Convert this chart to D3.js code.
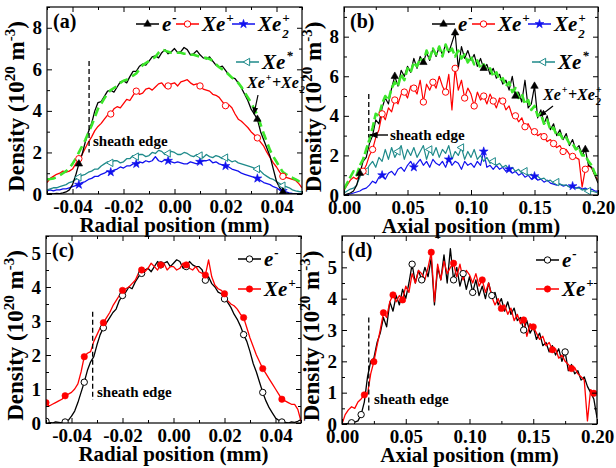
<!DOCTYPE html>
<html>
<head>
<meta charset="utf-8">
<script src="https://cdn.jsdelivr.net/npm/d3@7"></script>
<style>
body { margin: 0; background: #fff; }
text { font-family: "Liberation Serif", "Times New Roman", serif; font-weight: bold; }
</style>
</head>
<body>
<svg id="chart" width="616" height="468"></svg>
<script>
// sampling grids of the simulation output
var radialX = d3.range(81).map(function(i){ return -0.05 + i * 0.00125; });
var axialX = d3.range(81).map(function(i){ return i * 0.0025; });

// (a) radial profiles, 10^20 m^-3
var aElec = [0.0,0.02,0.0,0.03,0.02,0.05,0.1,0.2,0.45,0.9,1.45,1.9,2.5,3.0,3.4,4.0,4.4,4.45,4.7,4.95,5.0,4.9,5.15,5.4,5.45,5.35,5.65,5.9,5.9,6.15,6.25,6.2,6.4,6.6,6.65,6.55,6.8,6.95,6.75,6.85,7.0,6.8,6.85,7.05,6.95,6.7,6.75,6.9,6.7,6.55,6.5,6.6,6.4,6.2,6.1,6.15,5.95,5.75,5.6,5.55,5.35,5.1,4.8,4.5,4.1,3.85,3.6,3.0,2.6,2.2,1.8,1.2,0.6,0.3,0.1,0.05,0.02,0.0,0.0,0.0,0.0];
var aXeP = [0.55,0.75,0.85,0.95,1.0,1.1,1.05,1.1,1.2,1.45,1.7,1.9,2.2,2.5,2.75,3.05,3.25,3.4,3.6,3.8,3.85,4.1,4.2,4.15,4.35,4.55,4.5,4.75,4.95,4.8,4.85,5.05,5.1,5.0,5.15,5.3,5.35,5.15,5.2,5.3,5.35,5.2,5.4,5.45,5.5,5.35,5.25,5.3,5.2,5.05,5.0,4.95,4.8,4.75,4.65,4.45,4.25,4.3,4.15,3.85,3.6,3.5,3.35,3.2,3.0,2.85,2.7,2.5,2.3,2.0,1.75,1.5,1.3,1.05,0.85,0.8,0.75,0.7,0.65,0.5,0.3];
var aXe2P = [0.15,0.2,0.15,0.2,0.2,0.25,0.25,0.3,0.35,0.4,0.45,0.55,0.6,0.7,0.75,0.85,0.85,0.95,1.0,1.1,1.05,1.15,1.2,1.3,1.25,1.35,1.35,1.45,1.45,1.55,1.5,1.6,1.55,1.6,1.8,1.6,1.55,1.65,1.6,1.55,1.5,1.55,1.5,1.45,1.45,1.55,1.5,1.45,1.55,1.6,1.6,1.65,1.5,1.55,1.45,1.4,1.35,1.3,1.2,1.15,1.1,1.0,0.95,0.9,0.85,0.8,0.75,0.65,0.55,0.5,0.45,0.35,0.3,0.2,0.15,0.1,0.05,0.03,0.02,0.0,0.0];
var aXeStar = [0.2,0.25,0.3,0.3,0.35,0.4,0.45,0.55,0.6,0.7,0.8,0.9,0.95,1.05,1.1,1.2,1.2,1.35,1.45,1.55,1.5,1.6,1.6,1.5,1.55,1.7,1.7,1.85,1.8,1.9,1.9,1.8,1.85,2.0,1.95,2.1,2.05,1.9,1.95,2.05,2.0,1.9,1.9,2.0,1.95,1.85,1.8,1.9,1.85,1.75,1.9,1.8,1.75,1.85,1.8,1.7,1.75,1.65,1.55,1.6,1.5,1.45,1.4,1.35,1.3,1.25,1.2,1.1,0.95,0.85,0.75,0.7,0.6,0.5,0.4,0.35,0.3,0.2,0.15,0.12,0.1];
var aSum = [0.7,0.72,0.75,0.8,0.9,1.0,1.1,1.25,1.45,1.7,2.0,2.3,2.6,2.95,3.3,3.7,4.1,4.35,4.6,4.85,5.0,5.1,5.2,5.35,5.45,5.5,5.6,5.7,5.8,6.0,6.2,6.3,6.4,6.5,6.6,6.8,6.95,6.9,6.85,6.8,6.8,6.8,6.8,6.75,6.75,6.7,6.7,6.65,6.6,6.55,6.55,6.5,6.4,6.25,6.1,6.0,5.9,5.75,5.6,5.5,5.35,5.15,4.9,4.65,4.4,4.1,3.8,3.35,2.9,2.5,2.1,1.8,1.55,1.3,1.05,0.95,0.85,0.78,0.7,0.62,0.55];
var aMarks = [10,20,28,38,48,56,66,74];
var aElecMarks = [10,66,74];

// (b) axial profiles
var bElec = [0.0,0.05,0.1,0.2,0.5,1.1,1.7,1.9,2.6,3.0,3.8,3.6,4.4,4.9,4.6,5.4,6.0,5.5,6.3,6.0,6.5,6.2,6.9,6.4,7.0,6.7,7.2,6.8,7.4,7.0,7.5,7.1,7.6,7.2,7.7,8.2,6.4,7.5,6.9,7.3,6.8,7.1,6.5,6.9,6.4,6.6,6.1,6.4,5.9,6.1,5.6,5.8,5.3,6.0,5.0,5.2,4.7,5.8,4.4,4.6,5.5,3.9,4.3,3.6,4.0,3.3,3.6,3.0,3.3,2.8,3.1,2.5,2.8,2.3,2.5,2.0,2.3,1.5,1.4,1.0,0.6];
var bXeP = [0.25,0.5,0.75,0.9,0.8,1.0,1.2,1.5,2.0,2.3,2.9,3.3,4.1,3.8,4.4,4.2,4.8,4.6,5.1,5.2,4.9,5.5,5.4,5.1,5.8,4.7,5.6,5.3,5.7,5.4,6.0,5.5,5.2,6.1,4.3,6.4,5.3,5.8,4.9,5.4,5.1,4.5,5.2,4.8,5.0,4.6,5.1,4.75,4.4,4.9,4.75,4.3,4.5,4.0,4.0,3.7,3.9,3.45,3.6,3.3,3.2,3.0,3.1,2.95,2.7,2.8,2.6,2.4,2.5,2.2,2.3,2.05,1.95,1.9,1.8,0.4,1.3,1.5,1.35,1.0,0.75];
var bXe2P = [0.0,0.02,0.05,0.1,0.15,0.2,0.3,0.35,0.5,0.7,0.6,0.9,1.0,0.8,1.1,1.2,1.0,1.3,1.4,1.2,1.5,1.7,1.4,1.6,1.8,1.5,1.7,1.4,1.8,1.6,1.5,1.7,1.4,1.8,1.5,1.7,1.6,1.3,1.7,1.5,1.6,1.4,1.7,1.5,2.2,1.4,1.5,1.3,1.5,1.3,1.4,1.2,1.3,1.1,1.2,1.0,1.1,0.9,1.0,0.8,0.95,0.75,0.8,0.65,0.75,0.6,0.55,0.5,0.55,0.45,0.5,0.4,0.45,0.35,0.4,0.3,0.35,0.25,0.3,0.2,0.2];
var bXeStar = [0.1,0.2,0.3,0.35,0.5,0.9,1.3,1.2,1.5,1.7,1.4,1.9,1.7,2.3,1.8,2.4,1.9,2.2,2.5,1.8,2.3,2.0,2.4,1.9,2.2,2.5,1.8,2.3,2.0,2.4,1.9,2.3,2.1,2.5,1.8,2.2,2.0,2.4,1.8,2.2,1.9,2.3,1.8,2.0,1.7,1.9,1.6,1.7,1.5,1.6,1.4,1.5,1.3,1.4,1.2,1.3,1.1,1.2,1.0,1.05,0.9,0.95,0.8,0.85,0.7,0.75,0.6,0.65,0.55,0.5,0.5,0.4,0.45,0.35,0.35,0.25,0.3,0.2,0.2,0.15,0.1];
var bSum = [0.3,0.6,0.9,1.2,1.0,1.5,1.8,2.3,2.8,3.4,4.1,4.0,4.6,5.0,4.8,5.4,5.7,5.5,6.1,5.8,6.4,6.2,6.7,6.5,6.9,6.7,7.3,6.9,7.4,7.1,7.5,7.0,7.6,7.2,7.4,7.0,7.3,6.9,7.1,6.7,7.0,6.6,6.8,6.4,6.6,6.3,6.4,6.0,6.2,5.8,5.9,5.5,5.7,5.2,5.4,4.9,5.1,4.6,4.8,4.3,4.5,4.0,4.1,3.6,3.8,3.3,3.4,3.0,3.1,2.8,2.9,2.6,2.6,2.3,2.4,2.0,2.0,1.7,1.5,1.1,0.8];
var bElecMarks = [5,16,25,35,44,54,60,76];
var bXePMarks = [6,9,12,16,19,22,25,28,32,35,38,41,44,47,50,54,57,60,63,66,69,72,76];
var bXe2PMarks = [12,22,33,44,52,60,72];
var bXeStarMarks = [7,17,27,37,47,57,67,77];

// (c) radial, e- and Xe+
var cElec = [0.05,0.02,0.0,0.03,0.02,0.0,0.03,0.08,0.2,0.35,0.6,0.9,1.2,1.55,1.8,1.95,2.3,2.6,2.8,2.95,3.1,3.25,3.35,3.6,3.75,3.85,4.0,3.95,4.15,4.3,4.4,4.5,4.55,4.45,4.6,4.75,4.65,4.7,4.75,4.6,4.7,4.8,4.75,4.55,4.6,4.75,4.65,4.6,4.6,4.5,4.2,4.3,4.1,4.0,3.85,3.8,3.65,3.55,3.4,3.2,3.05,2.85,2.6,2.4,2.1,1.75,1.5,1.2,0.9,0.65,0.45,0.3,0.15,0.08,0.03,0.02,0.0,0.03,0.02,0.05,0.1];
var cXeP = [0.6,0.5,0.55,0.6,0.65,0.7,0.8,0.85,0.9,1.0,1.15,1.5,1.95,2.05,2.1,2.4,2.6,2.8,2.95,3.1,3.25,3.45,3.6,3.75,3.9,3.95,4.0,4.1,4.2,4.4,4.5,4.45,4.55,4.7,4.6,4.5,4.65,4.7,4.5,4.6,4.6,4.5,4.55,4.7,4.65,4.55,4.5,4.6,4.45,4.4,4.35,4.8,4.3,4.05,3.95,3.9,3.8,3.6,3.5,3.45,3.35,3.2,3.1,2.8,2.5,2.25,2.0,1.8,1.6,1.45,1.3,1.15,1.0,0.85,0.7,0.65,0.6,0.55,0.55,0.4,0.05];
var cMarks = [0,6,12,18,24,30,36,44,50,56,62,68,74];

// (d) axial, e- and Xe+
var dElec = [0.0,0.0,0.02,0.04,0.06,0.1,0.3,0.7,1.5,2.0,2.1,2.6,2.9,3.4,3.1,3.9,3.6,4.1,3.8,4.3,4.0,4.5,5.1,4.5,4.9,4.6,5.0,4.7,5.3,3.8,5.0,4.6,5.4,4.5,5.6,4.6,5.0,4.4,4.8,4.3,4.7,4.2,4.6,4.1,4.4,4.0,4.5,4.1,4.2,3.8,4.0,3.6,3.9,3.5,3.7,3.3,3.4,3.0,3.3,2.9,3.1,2.7,2.9,2.5,2.6,2.3,2.5,2.2,2.4,2.0,2.3,1.7,1.9,1.6,1.7,1.4,1.5,1.2,1.0,0.8,0.2];
var dXeP = [0.0,0.3,0.45,0.55,0.5,0.7,0.8,0.93,0.95,1.6,1.99,2.5,3.0,3.55,3.4,3.9,4.12,3.9,4.1,3.96,4.4,4.2,4.8,4.5,4.9,4.8,4.6,5.0,5.48,3.9,5.1,4.6,5.2,4.8,5.0,5.13,4.7,5.1,4.6,4.9,4.76,4.5,4.8,4.4,4.6,4.2,4.5,4.06,3.8,4.0,3.69,3.8,3.5,3.7,3.3,3.5,3.2,3.32,2.8,3.2,3.1,2.9,2.7,2.8,2.5,2.6,2.37,2.4,2.1,2.2,2.0,1.9,1.77,1.8,1.6,1.51,1.4,0.1,1.1,0.98,1.0];
var dElecMarks = [3,6,22,25,35,38,41,47,57,70];
var dXePMarks = [7,10,13,16,19,28,35,44,50,57,60,66,72,79];

var radialTicks = [-0.04, -0.02, 0, 0.02, 0.04];
var radialMinor = [-0.05, -0.03, -0.01, 0.01, 0.03, 0.05];
var axialTicks = [0, 0.05, 0.1, 0.15, 0.2];
var axialMinor = [0.025, 0.075, 0.125, 0.175];

var C = {elec: "#000000", xep: "#ff0000", xe2p: "#1111ee", star: "#1e8a8a", sum: "#3be62a"};
var SERIF = '"Liberation Serif","Times New Roman",serif';

var svg = d3.select("#chart");
svg.append("rect").attr("width", 616).attr("height", 468).attr("fill", "#fff");

var panels = [
  {id: "a", left: 47, right: 302, top: 7, bottom: 194, xd: [-0.05, 0.05], yd: [0, 9],
   xt: radialTicks, xm: radialMinor, yt: [0, 2, 4, 6, 8], ym: [1, 3, 5, 7, 9], xs: radialX, title: "Radial position (mm)"},
  {id: "b", left: 344, right: 598, top: 7, bottom: 195, xd: [0, 0.2], yd: [0, 9.5],
   xt: axialTicks, xm: axialMinor, yt: [0, 2, 4, 6, 8], ym: [1, 3, 5, 7, 9], xs: axialX, title: "Axial position (mm)"},
  {id: "c", left: 46, right: 301, top: 236, bottom: 423, xd: [-0.05, 0.05], yd: [0, 5.5],
   xt: radialTicks, xm: radialMinor, yt: [0, 1, 2, 3, 4, 5], ym: [0.5, 1.5, 2.5, 3.5, 4.5, 5.5], xs: radialX, title: "Radial position (mm)"},
  {id: "d", left: 342, right: 597, top: 236, bottom: 424, xd: [0, 0.2], yd: [0, 6],
   xt: axialTicks, xm: axialMinor, yt: [0, 1, 2, 3, 4, 5], ym: [0.5, 1.5, 2.5, 3.5, 4.5, 5.5], xs: axialX, title: "Axial position (mm)"}
];

function fmtX(v) { return (v < -1e-9 ? "-" : "") + Math.abs(v).toFixed(2); }

// markers: filled triangle, open circle, filled circle, star, open left triangle
function drawMarker(g, type, color, px, py) {
  var sym = type === "star" ? d3.symbolStar : (type === "tri" || type === "ltri") ? d3.symbolTriangle : d3.symbolCircle;
  var size = type === "star" ? 24 : (type === "tri" || type === "ltri") ? 24 : 32;
  var m = g.append("path").attr("d", d3.symbol().type(sym).size(size)())
    .attr("transform", "translate(" + px + "," + py + ")" + (type === "ltri" ? " rotate(-90)" : ""));
  if (type === "ocirc" || type === "ltri") {
    m.attr("fill", "#fff").attr("stroke", color).attr("stroke-width", 1);
  } else {
    m.attr("fill", color).attr("stroke", color).attr("stroke-width", 0.6);
  }
}

// text with stacked sub/superscript
function rich(g, x, y, base, sup, sub, size, italic) {
  var t = g.append("text").attr("x", x).attr("y", y).attr("font-size", size)
    .attr("font-style", italic ? "italic" : "normal").text(base);
  var w = t.node().getComputedTextLength();
  if (sub) g.append("text").attr("x", x + w + 1).attr("y", y + size * 0.32).attr("font-size", size * 0.62)
    .attr("font-style", italic ? "italic" : "normal").text(sub);
  if (sup) g.append("text").attr("x", x + w + 1).attr("y", y - size * 0.45).attr("font-size", size * 0.62)
    .attr("font-style", italic ? "italic" : "normal").text(sup);
  return t;
}

function legendItem(g, x, y, color, type, base, sup, sub) {
  g.append("line").attr("x1", x).attr("x2", x + 23).attr("y1", y).attr("y2", y)
    .attr("stroke", color).attr("stroke-width", 1.5);
  drawMarker(g, type, color, x + 11.5, y);
  rich(g, x + 26, y + 7, base, sup, sub, 21, true);
}

panels.forEach(function(p) {
  var g = svg.append("g").attr("id", "panel-" + p.id);
  p.x = d3.scaleLinear().domain(p.xd).range([p.left, p.right]);
  p.y = d3.scaleLinear().domain(p.yd).range([p.bottom, p.top]);
  p.g = g;

  svg.append("clipPath").attr("id", "clip-" + p.id).append("rect")
    .attr("x", p.left).attr("y", p.top).attr("width", p.right - p.left).attr("height", p.bottom - p.top);
  p.plot = g.append("g").attr("clip-path", "url(#clip-" + p.id + ")");

  // axes, ticks point inward on all four sides
  var ax = [
    {a: d3.axisBottom(p.x).tickValues(p.xt).tickSize(-5).tickPadding(6).tickFormat(fmtX), t: "translate(0," + p.bottom + ")"},
    {a: d3.axisBottom(p.x).tickValues(p.xm).tickSize(-3).tickFormat(""), t: "translate(0," + p.bottom + ")"},
    {a: d3.axisTop(p.x).tickValues(p.xt).tickSize(-5).tickFormat(""), t: "translate(0," + p.top + ")"},
    {a: d3.axisTop(p.x).tickValues(p.xm).tickSize(-3).tickFormat(""), t: "translate(0," + p.top + ")"},
    {a: d3.axisLeft(p.y).tickValues(p.yt).tickSize(-5).tickPadding(5).tickFormat(d3.format("d")), t: "translate(" + p.left + ",0)"},
    {a: d3.axisLeft(p.y).tickValues(p.ym).tickSize(-3).tickFormat(""), t: "translate(" + p.left + ",0)"},
    {a: d3.axisRight(p.y).tickValues(p.yt).tickSize(-5).tickFormat(""), t: "translate(" + p.right + ",0)"},
    {a: d3.axisRight(p.y).tickValues(p.ym).tickSize(-3).tickFormat(""), t: "translate(" + p.right + ",0)"}
  ];
  ax.forEach(function(d) {
    var ag = g.append("g").attr("transform", d.t).call(d.a);
    ag.select(".domain").remove();
    ag.attr("font-family", SERIF).attr("font-size", 19).attr("font-weight", "bold");
    ag.selectAll("line").attr("stroke", "#000").attr("stroke-width", 1);
    ag.selectAll("text").attr("fill", "#000");
  });
  g.append("rect").attr("x", p.left).attr("y", p.top).attr("width", p.right - p.left)
    .attr("height", p.bottom - p.top).attr("fill", "none").attr("stroke", "#000").attr("stroke-width", 1.2);

  // axis titles
  g.append("text").attr("x", (p.left + p.right) / 2).attr("y", p.bottom + 38).attr("text-anchor", "middle")
    .attr("font-size", 21).text(p.title);
  var yt = g.append("text").attr("text-anchor", "middle").attr("font-size", 23)
    .attr("transform", "translate(" + (p.left - 23) + "," + ((p.top + p.bottom) / 2 + 6) + ") rotate(-90)");
  yt.append("tspan").text("Density (10");
  yt.append("tspan").attr("font-size", 15).attr("dy", -9).text("20");
  yt.append("tspan").attr("dy", 9).text(" m");
  yt.append("tspan").attr("font-size", 15).attr("dy", -9).text("-3");
  yt.append("tspan").attr("dy", 9).text(")");

  g.append("text").attr("x", p.left + 6).attr("y", p.top + 21).attr("font-size", 20).text("(" + p.id + ")");
});

function series(p, values, color, width, dash) {
  var line = d3.line().x(function(d, i) { return p.x(p.xs[i]); }).y(function(d) { return p.y(d); });
  var path = p.plot.append("path").datum(values).attr("d", line).attr("fill", "none")
    .attr("stroke", color).attr("stroke-width", width).attr("stroke-linejoin", "round");
  if (dash) path.attr("stroke-dasharray", dash);
}
function marks(p, values, idx, color, type) {
  idx.forEach(function(i) { drawMarker(p.plot, type, color, p.x(p.xs[i]), p.y(values[i])); });
}

function sheath(p, xv, y0, y1, tx, ty) {
  p.g.append("line").attr("x1", p.x(xv)).attr("x2", p.x(xv)).attr("y1", p.y(y0)).attr("y2", p.y(y1))
    .attr("stroke", "#000").attr("stroke-width", 1.3).attr("stroke-dasharray", "5,3");
  p.g.append("text").attr("x", tx).attr("y", ty).attr("font-size", 15).text("sheath edge");
}

svg.append("defs").append("marker").attr("id", "arrow").attr("viewBox", "0 0 10 10")
  .attr("refX", 9).attr("refY", 5).attr("markerWidth", 6).attr("markerHeight", 6).attr("orient", "auto")
  .append("path").attr("d", "M0,1L10,5L0,9Z").attr("fill", "#000");

// ---- (a)
var pa = panels[0];
series(pa, aXe2P, C.xe2p, 1.3);
series(pa, aXeStar, C.star, 1.3);
series(pa, aXeP, C.xep, 1.3);
series(pa, aElec, C.elec, 1.3);
series(pa, aSum, C.sum, 2.6, "9,5");
marks(pa, aXe2P, aMarks, C.xe2p, "star");
marks(pa, aXeStar, aMarks, C.star, "ltri");
marks(pa, aXeP, aMarks, C.xep, "ocirc");
marks(pa, aElec, aElecMarks, C.elec, "tri");
sheath(pa, -0.0335, 6.4, 2.0, 93, 146);
rich(pa.g, 247, 88, "Xe", "+", null, 16, true);
rich(pa.g, 272, 88, "+Xe", "+", "2", 16, true);
pa.g.append("line").attr("x1", 258).attr("y1", 95).attr("x2", 254).attr("y2", 114)
  .attr("stroke", "#000").attr("stroke-width", 1.2).attr("marker-end", "url(#arrow)");
var la = pa.g.append("g");
legendItem(la, 136, 24, C.elec, "tri", "e", "-", null);
legendItem(la, 176, 24, C.xep, "ocirc", "Xe", "+", null);
legendItem(la, 232, 24, C.xe2p, "star", "Xe", "+", "2");
legendItem(la, 236, 62, C.star, "ltri", "Xe", "*", null);

// ---- (b)
var pb = panels[1];
series(pb, bXe2P, C.xe2p, 1.2);
series(pb, bXeStar, C.star, 1.2);
series(pb, bXeP, C.xep, 1.2);
series(pb, bElec, C.elec, 1.2);
series(pb, bSum, C.sum, 2.6, "9,3");
marks(pb, bXe2P, bXe2PMarks, C.xe2p, "star");
marks(pb, bXeStar, bXeStarMarks, C.star, "ltri");
marks(pb, bXeP, bXePMarks, C.xep, "ocirc");
marks(pb, bElec, bElecMarks, C.elec, "tri");
sheath(pb, 0.0195, 5.1, 2.9, 390, 140);
pb.g.append("line").attr("x1", 388).attr("y1", 135).attr("x2", 370).attr("y2", 135)
  .attr("stroke", "#000").attr("stroke-width", 1.4).attr("marker-end", "url(#arrow)");
rich(pb.g, 543, 100, "Xe", "+", null, 16, true);
rich(pb.g, 568, 100, "+Xe", "+", "2", 16, true);
pb.g.append("line").attr("x1", 553).attr("y1", 106).attr("x2", 540).attr("y2", 116)
  .attr("stroke", "#000").attr("stroke-width", 1.2).attr("marker-end", "url(#arrow)");
var lb = pb.g.append("g");
legendItem(lb, 432, 24, C.elec, "tri", "e", "-", null);
legendItem(lb, 472, 24, C.xep, "ocirc", "Xe", "+", null);
legendItem(lb, 528, 24, C.xe2p, "star", "Xe", "+", "2");
legendItem(lb, 532, 62, C.star, "ltri", "Xe", "*", null);

// ---- (c)
var pc = panels[2];
series(pc, cElec, C.elec, 1.3);
series(pc, cXeP, C.xep, 1.3);
marks(pc, cElec, cMarks, C.elec, "ocirc");
marks(pc, cXeP, cMarks, C.xep, "circ");
sheath(pc, -0.0317, 3.27, 0.68, 97, 397);
var lc = pc.g.append("g");
legendItem(lc, 238, 259, C.elec, "ocirc", "e", "-", null);
legendItem(lc, 238, 289, C.xep, "circ", "Xe", "+", null);

// ---- (d)
var pd = panels[3];
series(pd, dElec, C.elec, 1.3);
series(pd, dXeP, C.xep, 1.3);
marks(pd, dElec, dElecMarks, C.elec, "ocirc");
marks(pd, dXeP, dXePMarks, C.xep, "circ");
sheath(pd, 0.021, 3.4, 0.4, 374, 404);
var ld = pd.g.append("g");
legendItem(ld, 536, 260, C.elec, "ocirc", "e", "-", null);
legendItem(ld, 536, 289, C.xep, "circ", "Xe", "+", null);
</script>
</body>
</html>
